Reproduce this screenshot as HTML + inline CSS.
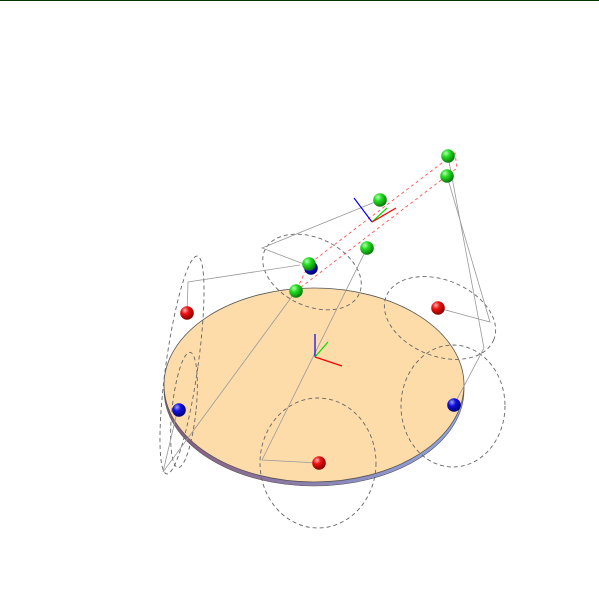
<!DOCTYPE html>
<html><head><meta charset="utf-8"><style>
html,body{margin:0;padding:0;background:#fff;width:599px;height:600px;overflow:hidden}
svg{display:block}
</style></head><body>
<svg id="scene" width="599" height="600" viewBox="0 0 599 600" xmlns="http://www.w3.org/2000/svg">
<defs>
<radialGradient id="gG" cx="35%" cy="30%" r="70%"><stop offset="0" stop-color="#b9ffb0"/><stop offset="0.4" stop-color="#22dd22"/><stop offset="1" stop-color="#0a7a0a"/></radialGradient>
<radialGradient id="gR" cx="35%" cy="30%" r="70%"><stop offset="0" stop-color="#ffb0b0"/><stop offset="0.4" stop-color="#ee1111"/><stop offset="1" stop-color="#880000"/></radialGradient>
<radialGradient id="gB" cx="35%" cy="30%" r="70%"><stop offset="0" stop-color="#a0a0ff"/><stop offset="0.4" stop-color="#1111dd"/><stop offset="1" stop-color="#000077"/></radialGradient>
<linearGradient id="edge" x1="0" x2="1"><stop offset="0" stop-color="#8a5a7a"/><stop offset="1" stop-color="#8fa8e8"/></linearGradient>
</defs>
<line x1="0" y1="0.5" x2="599" y2="0.5" stroke="#003300" stroke-width="1"/>
<g id="g"></g>
</svg>
<script>
const greens=[[448,156],[447,176],[380,200],[367,248],[309,264],[296,291]];
const blues=[[311,268],[179,410],[454,405]];
const reds=[[187,313],[438,308],[319,463]];
const grayLines=[[[380,200],[262,248],[309,266]],[[300,265],[188,282],[187,313]],[[367,248],[262,460],[319,463]],[[296,291],[163,472],[178,408]],[[447,176],[490,322],[438,308]],[[448,156],[484,348],[454,405]]];
const dashEllipses=[[312,272,52,34,25],[182,365,16,110,8],[184,410,12,58,6],[440,318,58,38,22],[453,406,52,61,0],[318,463,58,65,0]];
const NS='http://www.w3.org/2000/svg';
const g=document.getElementById('g');
function mk(t,a){const e=document.createElementNS(NS,t);for(const k in a)e.setAttribute(k,a[k]);g.appendChild(e);return e;}
// disk edge + top
let e=mk('ellipse',{cx:314,cy:390,rx:150,ry:96,fill:'url(#edge)',stroke:'#555','stroke-width':0.6});


e=mk('ellipse',{cx:314,cy:385,rx:150,ry:97,fill:'#fddcaa',stroke:'#555','stroke-width':0.8});


dashEllipses.forEach(d=>{
 const el=mk('ellipse',{cx:d[0],cy:d[1],rx:d[2],ry:d[3],transform:`rotate(${d[4]} ${d[0]} ${d[1]})`,fill:'none',stroke:'#666','stroke-width':0.9,'stroke-dasharray':'4 3'});
 
 
});
grayLines.forEach(p=>{
 const el=mk('polyline',{points:p.map(q=>q.join(',')).join(' '),fill:'none',stroke:'#999','stroke-width':0.8});
 
 
});
e=mk('polygon',{points:'296,291 457,168 455,153 309,264',fill:'none',stroke:'#f55','stroke-width':0.9,'stroke-dasharray':'3 3'});


function triad(x,y,b,gr,r,name){
 [[b,'#00f'],[gr,'#0d0'],[r,'#f00']].forEach(([d,c])=>{
  const el=mk('line',{x1:x,y1:y,x2:x+d[0],y2:y+d[1],stroke:c,'stroke-width':1.2});
  
  
 });
}
triad(372,222,[-18,-24],[15,-14],[24,-14],'axis-triad-top');
triad(315,357,[0,-23],[13,-15],[27,9],'axis-triad-center');
function spheres(arr,f,n){arr.forEach(p=>{const el=mk('circle',{cx:p[0],cy:p[1],r:6.8,fill:f});
 
 });}
spheres(blues,'url(#gB)','blue-sphere');
spheres(reds,'url(#gR)','red-sphere');
spheres(greens,'url(#gG)','green-sphere');
</script>
</body></html>
